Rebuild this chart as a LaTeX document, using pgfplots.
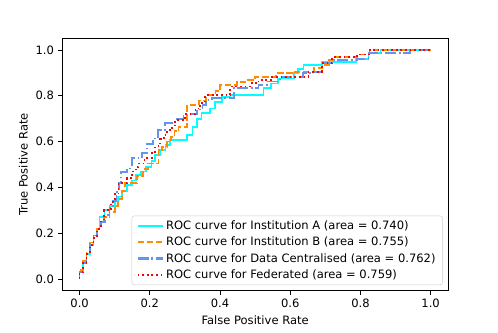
\documentclass[border=0pt]{standalone}
\usepackage{fontspec}
\setmainfont{DejaVu Sans}
\usepackage{pgfplots}
\pgfplotsset{compat=1.18}
\usetikzlibrary{calc}
\definecolor{mplcyan}{RGB}{0,255,255}
\definecolor{mplorange}{RGB}{255,140,0}
\definecolor{mplblue}{RGB}{100,149,237}
\definecolor{mplred}{RGB}{255,0,0}
\begin{document}
\begin{tikzpicture}
\begin{axis}[
  width=334.9pt, height=218.6pt, scale only axis,
  xmin=-0.05, xmax=1.05, ymin=-0.05, ymax=1.05,
  xtick={0,0.2,0.4,0.6,0.8,1.0}, ytick={0,0.2,0.4,0.6,0.8,1.0},
  tick align=outside, tick pos=left, major tick length=3.5pt,
  every tick/.style={black, line width=0.8pt},
  axis line style={line width=0.8pt},
  /pgf/number format/assume math mode=true,
  xticklabel style={/pgf/number format/fixed, /pgf/number format/fixed zerofill, /pgf/number format/precision=1},
  yticklabel style={/pgf/number format/fixed, /pgf/number format/fixed zerofill, /pgf/number format/precision=1},
  ticklabel style={font=\fontsize{10}{12}\selectfont},
  label style={font=\fontsize{10}{12}\selectfont},
  xlabel={False Positive Rate},
  ylabel={True Positive Rate},
  legend cell align=left,
  legend style={at={(0.9858,0.0218)}, anchor=south east, draw=black!20, rounded corners=2pt,
    fill=white, font=\fontsize{10}{12}\selectfont, row sep=1.0pt, inner xsep=4pt, inner ysep=2.2pt},
  legend image code/.code={\draw[#1, line width=1.9pt] (0pt,0pt) -- (21.7pt,0pt);},
]
\addplot[color=mplcyan, line width=1.5pt] coordinates {
(0,0)(0,0.03)(0.01,0.03)(0.01,0.07)(0.02,0.07)(0.02,0.11)(0.03,0.11)(0.03,0.15)(0.04,0.15)(0.04,0.19)(0.05,0.19)(0.05,0.22)(0.057,0.22)(0.057,0.27)(0.071,0.27)(0.071,0.30)(0.085,0.30)(0.085,0.32)(0.10,0.32)(0.10,0.345)(0.11,0.345)(0.11,0.36)(0.12,0.36)(0.12,0.385)(0.135,0.385)(0.135,0.41)(0.15,0.41)(0.15,0.43)(0.16,0.43)(0.16,0.455)(0.175,0.455)(0.175,0.47)(0.19,0.47)(0.19,0.49)(0.205,0.49)(0.205,0.515)(0.215,0.515)(0.215,0.541)(0.23,0.541)(0.23,0.565)(0.245,0.565)(0.245,0.585)(0.258,0.585)(0.258,0.607)(0.306,0.607)(0.306,0.629)(0.322,0.629)(0.322,0.665)(0.335,0.665)(0.335,0.70)(0.347,0.70)(0.347,0.724)(0.372,0.724)(0.372,0.745)(0.385,0.745)(0.385,0.774)(0.406,0.774)(0.406,0.796)(0.43,0.796)(0.43,0.803)(0.524,0.803)(0.524,0.833)(0.545,0.833)(0.545,0.854)(0.565,0.854)(0.565,0.876)(0.61,0.876)(0.61,0.898)(0.622,0.898)(0.622,0.917)(0.638,0.917)(0.638,0.934)(0.69,0.934)(0.69,0.948)(0.787,0.948)(0.787,0.962)(0.823,0.962)(0.823,0.987)(0.857,0.987)(0.857,1)(1,1)
};
\addlegendentry{ROC curve for Institution A (area = 0.740)}
\addplot[color=mplorange, line width=1.5pt, dash pattern=on 5.55pt off 2.4pt] coordinates {
(0,0)(0,0.04)(0.01,0.04)(0.01,0.08)(0.02,0.08)(0.02,0.12)(0.03,0.12)(0.03,0.16)(0.04,0.16)(0.04,0.19)(0.05,0.19)(0.05,0.22)(0.06,0.22)(0.06,0.25)(0.07,0.25)(0.07,0.27)(0.085,0.27)(0.085,0.294)(0.10,0.294)(0.10,0.32)(0.11,0.32)(0.11,0.35)(0.12,0.35)(0.12,0.385)(0.13,0.385)(0.13,0.418)(0.163,0.418)(0.163,0.45)(0.18,0.45)(0.18,0.48)(0.195,0.48)(0.195,0.505)(0.225,0.505)(0.225,0.563)(0.235,0.563)(0.235,0.578)(0.25,0.578)(0.25,0.6)(0.26,0.6)(0.26,0.62)(0.27,0.62)(0.27,0.645)(0.282,0.645)(0.282,0.665)(0.306,0.665)(0.306,0.76)(0.34,0.76)(0.34,0.78)(0.36,0.78)(0.36,0.803)(0.387,0.803)(0.387,0.82)(0.40,0.82)(0.40,0.847)(0.448,0.847)(0.448,0.86)(0.48,0.86)(0.48,0.869)(0.50,0.869)(0.50,0.883)(0.56,0.883)(0.56,0.898)(0.614,0.898)(0.614,0.905)(0.667,0.905)(0.667,0.92)(0.69,0.92)(0.69,0.934)(0.71,0.934)(0.71,0.955)(0.729,0.955)(0.729,0.968)(0.79,0.968)(0.79,0.98)(0.826,0.98)(0.826,1)(1,1)
};
\addlegendentry{ROC curve for Institution B (area = 0.755)}
\addplot[color=mplblue, line width=1.5pt, dash pattern=on 9.6pt off 2.4pt on 1.5pt off 2.4pt] coordinates {
(0,0)(0,0.03)(0.01,0.03)(0.01,0.07)(0.02,0.07)(0.02,0.11)(0.03,0.11)(0.03,0.15)(0.04,0.15)(0.04,0.19)(0.05,0.19)(0.05,0.22)(0.06,0.22)(0.06,0.25)(0.073,0.25)(0.073,0.279)(0.085,0.279)(0.085,0.31)(0.095,0.31)(0.095,0.34)(0.105,0.34)(0.105,0.38)(0.112,0.38)(0.112,0.418)(0.118,0.418)(0.118,0.469)(0.135,0.469)(0.135,0.483)(0.149,0.483)(0.149,0.527)(0.178,0.527)(0.178,0.549)(0.192,0.549)(0.192,0.59)(0.21,0.59)(0.21,0.614)(0.224,0.614)(0.224,0.65)(0.244,0.65)(0.244,0.68)(0.272,0.68)(0.272,0.70)(0.296,0.70)(0.296,0.72)(0.334,0.72)(0.334,0.74)(0.35,0.74)(0.35,0.76)(0.36,0.76)(0.36,0.782)(0.377,0.782)(0.377,0.789)(0.439,0.789)(0.439,0.833)(0.51,0.833)(0.51,0.847)(0.534,0.847)(0.534,0.862)(0.57,0.862)(0.57,0.883)(0.637,0.883)(0.637,0.898)(0.667,0.898)(0.667,0.905)(0.69,0.905)(0.69,0.942)(0.724,0.942)(0.724,0.955)(0.79,0.955)(0.79,0.962)(0.823,0.962)(0.823,0.987)(0.942,0.987)(0.942,1)(1,1)
};
\addlegendentry{ROC curve for Data Centralised (area = 0.762)}
\addplot[color=mplred, line width=1.5pt, dash pattern=on 1.5pt off 2.475pt] coordinates {
(0,0)(0,0.03)(0.01,0.03)(0.01,0.07)(0.02,0.07)(0.02,0.11)(0.03,0.11)(0.03,0.15)(0.04,0.15)(0.04,0.18)(0.05,0.18)(0.05,0.22)(0.06,0.22)(0.06,0.26)(0.07,0.26)(0.07,0.3)(0.09,0.3)(0.09,0.338)(0.10,0.338)(0.10,0.37)(0.111,0.37)(0.111,0.418)(0.135,0.418)(0.135,0.44)(0.15,0.44)(0.15,0.47)(0.16,0.47)(0.16,0.49)(0.168,0.49)(0.168,0.505)(0.185,0.505)(0.185,0.53)(0.206,0.53)(0.206,0.549)(0.215,0.549)(0.215,0.58)(0.23,0.58)(0.23,0.61)(0.24,0.61)(0.24,0.629)(0.249,0.629)(0.249,0.65)(0.263,0.65)(0.263,0.67)(0.272,0.67)(0.272,0.694)(0.30,0.694)(0.30,0.72)(0.33,0.72)(0.33,0.745)(0.344,0.745)(0.344,0.77)(0.358,0.77)(0.358,0.803)(0.429,0.803)(0.429,0.84)(0.49,0.84)(0.49,0.855)(0.51,0.855)(0.51,0.869)(0.548,0.869)(0.548,0.883)(0.652,0.883)(0.652,0.905)(0.69,0.905)(0.69,0.942)(0.72,0.942)(0.72,0.968)(0.79,0.968)(0.79,0.98)(0.826,0.98)(0.826,1)(1,1)
};
\addlegendentry{ROC curve for Federated (area = 0.759)}
\coordinate (sw) at (rel axis cs:0,0);
\coordinate (ne) at (rel axis cs:1,1);
\end{axis}
\useasboundingbox ($(sw)+(-53.8pt,-36pt)$) rectangle ($(ne)+(43.2pt,33.4pt)$);
\end{tikzpicture}
\end{document}
